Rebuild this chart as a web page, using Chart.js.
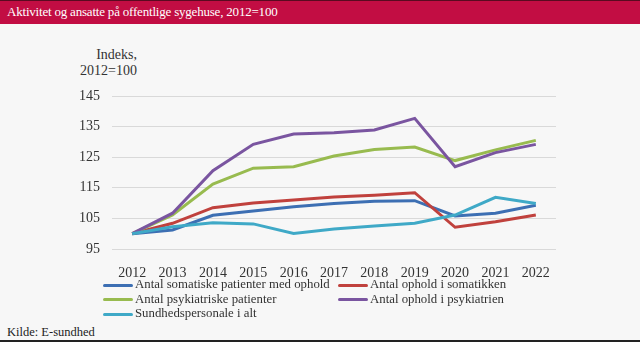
<!DOCTYPE html>
<html>
<head>
<meta charset="utf-8">
<script src="https://cdn.jsdelivr.net/npm/chart.js@4"></script>
<style>
  body { margin: 0; background: #f7f7f7; font-family: "Liberation Serif", serif; }
  #wrap { position: relative; width: 640px; height: 342px; overflow: hidden; background: #f7f7f7; }
  #head { position: absolute; left: 0; top: 0; width: 640px; height: 24px; background: #c20d43; border-top: 1px solid #5a0a20; box-sizing: border-box; color: #fff; font-size: 13px; line-height: 22px; padding-left: 7px; letter-spacing: -0.2px; }
  #ytitle { position: absolute; right: 503px; top: 47px; text-align: right; font-size: 14px; line-height: 16px; color: #333; }
  #chartBox { position: absolute; left: 0; top: 0; width: 640px; height: 280px; }
  #legend { position: absolute; left: 103px; top: 277px; font-size: 12.8px; color: #333; }
  .item { position: absolute; white-space: nowrap; height: 14px; line-height: 14px; }
  .item span.sw { display: inline-block; width: 30px; height: 3px; border-radius: 2px; vertical-align: middle; margin-right: 2px; }
  #src { position: absolute; left: 7px; top: 325px; font-size: 12.5px; color: #222; }
  #foot { position: absolute; left: 0; top: 340px; width: 640px; height: 2px; background: #222; }
</style>
</head>
<body>
<div id="wrap">
  <div id="head">Aktivitet og ansatte på offentlige sygehuse, 2012=100</div>
  <div id="ytitle">Indeks,<br>2012=100</div>
  <div id="chartBox"><canvas id="chart" width="640" height="280"></canvas></div>
  <div id="legend"></div>
  <div id="src">Kilde: E-sundhed</div>
  <div id="foot"></div>
</div>
<script>
const years = ['2012', '2013', '2014', '2015', '2016', '2017', '2018', '2019', '2020', '2021', '2022'];

const somatiskePatienter = [100, 101.2, 106, 107.4, 108.8, 109.9, 110.6, 110.8, 105.8, 106.7, 109.3];
const opholdSomatik = [100, 103.4, 108.5, 110, 111, 112, 112.6, 113.4, 102.1, 103.9, 106.1];
const psykiatriskePatienter = [100, 106.1, 116.2, 121.4, 121.9, 125.4, 127.5, 128.3, 123.9, 127.4, 130.5];
const opholdPsykiatri = [100, 106.7, 120.6, 129.2, 132.6, 133, 133.9, 137.7, 121.9, 126.5, 129.2];
const sundhedspersonale = [100, 102.3, 103.6, 103.2, 100.1, 101.5, 102.5, 103.4, 106.1, 111.9, 109.9];

const labels = [
  'Antal somatiske patienter med ophold',
  'Antal ophold i somatikken',
  'Antal psykiatriske patienter',
  'Antal ophold i psykiatrien',
  'Sundhedspersonale i alt'
];
const colors = ['#3d6fb3', '#c0413d', '#98bb4f', '#7a55a0', '#3fa9c7'];
const series = [somatiskePatienter, opholdSomatik, psykiatriskePatienter, opholdPsykiatri, sundhedspersonale];

const tickFont = { family: '"Liberation Serif", serif', size: 14 };

const chart = new Chart(document.getElementById('chart'), {
  type: 'line',
  data: {
    labels: years,
    datasets: series.map((data, i) => ({
      label: labels[i],
      data,
      borderColor: colors[i],
      backgroundColor: colors[i],
      borderWidth: 3,
      pointRadius: 0,
      tension: 0,
      order: 5 - i
    }))
  },
  options: {
    responsive: false,
    animation: false,
    layout: { padding: { left: 62, right: 84, top: 96, bottom: 0 } },
    plugins: { legend: { display: false }, tooltip: { enabled: false } },
    scales: {
      x: {
        offset: true,
        grid: { display: false },
        border: { display: false },
        ticks: { color: '#333', font: tickFont, padding: 8, maxRotation: 0 },
        afterFit: s => { s.height = 31; }
      },
      y: {
        min: 95,
        max: 145,
        ticks: { stepSize: 10, color: '#333', font: tickFont, padding: 12 },
        grid: { color: '#d9d9d9', lineWidth: 1, drawTicks: false },
        border: { display: false },
        afterFit: s => { s.width = 50; }
      }
    }
  }
});

// legend in two columns like the original
const legend = document.getElementById('legend');
chart.data.datasets.forEach((ds, i) => {
  const el = document.createElement('div');
  el.className = 'item';
  el.style.left = (i % 2) * 235 + 'px';
  el.style.top = Math.floor(i / 2) * 14.5 + 'px';
  el.innerHTML = '<span class="sw" style="background:' + ds.borderColor + '"></span>' + ds.label;
  legend.appendChild(el);
});
</script>
</body>
</html>
